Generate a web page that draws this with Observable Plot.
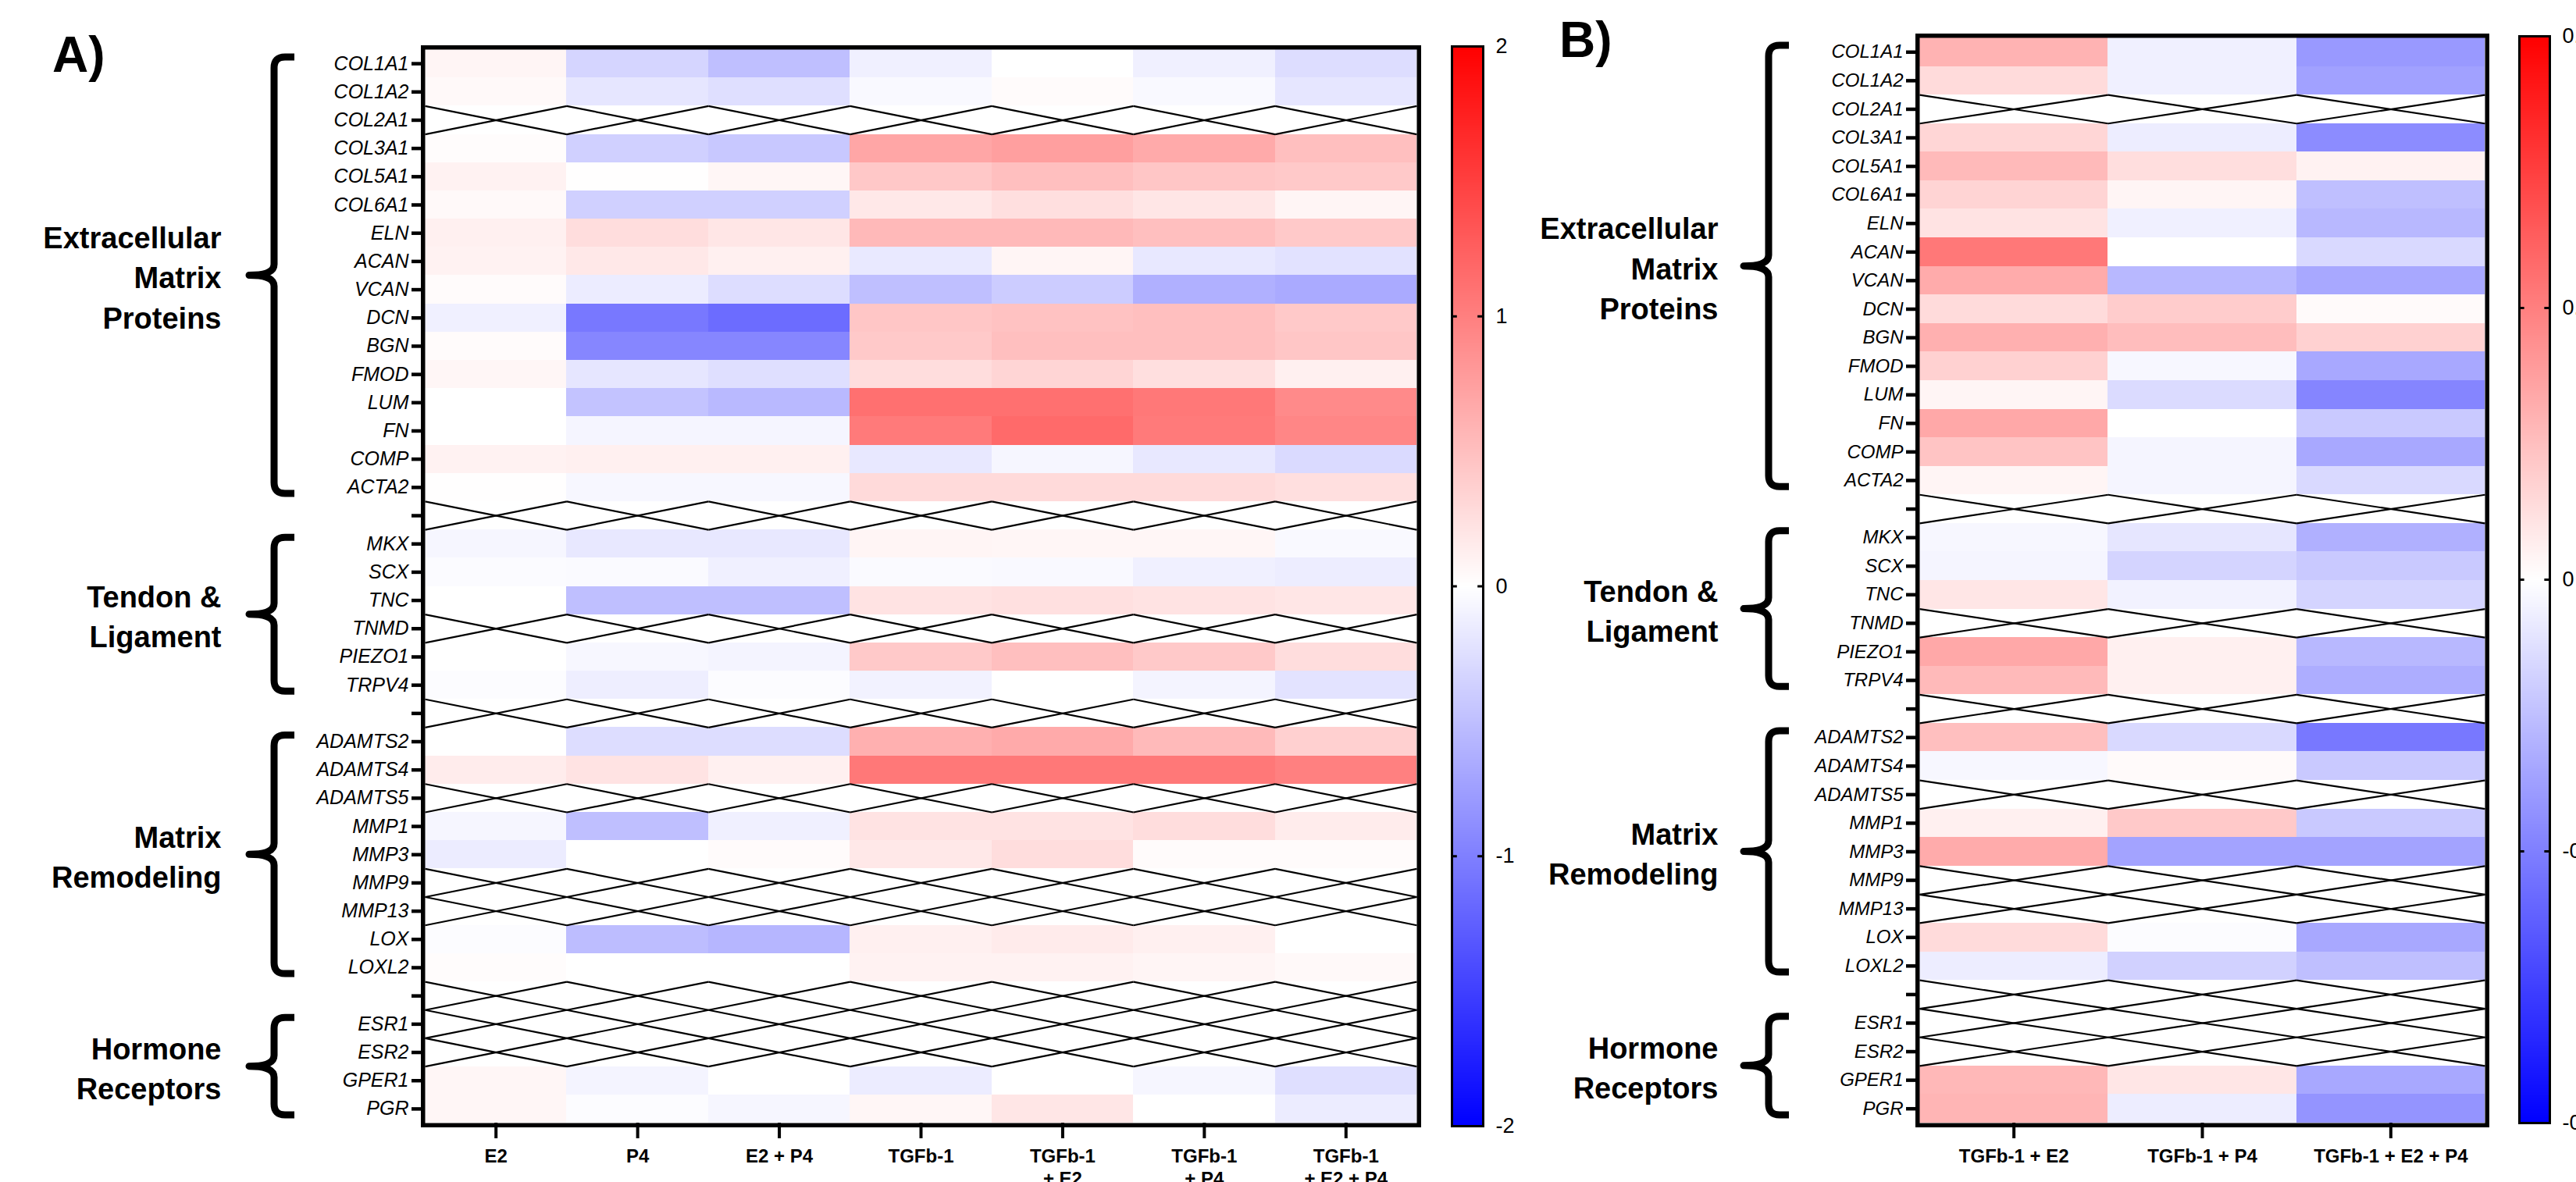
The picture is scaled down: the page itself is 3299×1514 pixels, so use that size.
<!DOCTYPE html>
<html>
<head>
<meta charset="utf-8">
<script src="https://cdn.jsdelivr.net/npm/d3@7"></script>
<script src="https://cdn.jsdelivr.net/npm/@observablehq/plot@0.6"></script>
<style>
html, body { margin: 0; padding: 0; background: #fff; }
#root { position: relative; width: 3299px; height: 1514px; overflow: hidden; background: #fff;
  font-family: "Liberation Sans", Arial, sans-serif; color: #000; }
.layer { position: absolute; top: 0; }
.tag { position: absolute; font-weight: bold; font-size: 64px; line-height: 64px; }
</style>
</head>
<body>
<div id="root">
  <div class="tag" style="left:67px; top:38px;">A)</div>
  <div class="tag" style="left:1997px; top:19px;">B)</div>
</div>
<script>
// ---------- DATA ----------
// Row labels (blank strings are empty separator rows)
const genes = ["COL1A1","COL1A2","COL2A1","COL3A1","COL5A1","COL6A1","ELN","ACAN","VCAN","DCN","BGN","FMOD","LUM","FN","COMP","ACTA2","",
  "MKX","SCX","TNC","TNMD","PIEZO1","TRPV4","",
  "ADAMTS2","ADAMTS4","ADAMTS5","MMP1","MMP3","MMP9","MMP13","LOX","LOXL2","",
  "ESR1","ESR2","GPER1","PGR"];

// Gene groups
const groupNames = ["Extracellular\nMatrix\nProteins", "Tendon &\nLigament", "Matrix\nRemodeling", "Hormone\nReceptors"];
const groupFirst = ["COL1A1", "MKX", "ADAMTS2", "ESR1"];
const groupLast  = ["ACTA2", "TRPV4", "LOXL2", "PGR"];

// Panel A conditions
const condsA = ["E2", "P4", "E2 + P4", "TGFb-1", "TGFb-1\n+ E2", "TGFb-1\n+ P4", "TGFb-1\n+ E2 + P4"];
// Panel A values (null = not measured, crossed cell)
const a_E2 = [0.08,0.05,null,0.02,0.10,0.05,0.12,0.10,0.03,-0.12,0.03,0.07,0.00,0.00,0.10,0.01,null,
  -0.07,-0.03,0.00,null,0.00,-0.02,null,
  0.00,0.15,null,-0.07,-0.15,null,null,-0.02,0.02,null,
  null,null,0.07,0.07];
const a_P4 = [-0.33,-0.20,null,-0.37,0.01,-0.37,0.27,0.18,-0.15,-1.06,-0.95,-0.20,-0.47,-0.08,0.12,-0.06,null,
  -0.18,-0.04,-0.50,null,-0.06,-0.13,null,
  -0.27,0.22,null,-0.50,0.00,null,null,-0.52,0.00,null,
  null,null,-0.09,-0.02];
const a_E2P4 = [-0.50,-0.25,null,-0.43,0.07,-0.37,0.20,0.12,-0.27,-1.15,-0.95,-0.25,-0.55,-0.08,0.12,-0.06,null,
  -0.18,-0.12,-0.50,null,-0.09,-0.02,null,
  -0.27,0.12,null,-0.12,0.03,null,null,-0.57,0.00,null,
  null,null,0.00,-0.07];
const a_T = [-0.12,-0.05,null,0.70,0.43,0.18,0.55,-0.17,-0.50,0.45,0.42,0.27,1.12,1.04,-0.18,0.29,null,
  0.08,-0.04,0.22,null,0.42,-0.10,null,
  0.62,1.06,null,0.22,0.18,null,null,0.12,0.10,null,
  null,null,-0.15,0.07];
const a_TE2 = [0.00,0.03,null,0.75,0.50,0.25,0.55,0.08,-0.40,0.48,0.50,0.33,1.12,1.17,-0.07,0.29,null,
  0.07,-0.05,0.24,null,0.50,0.00,null,
  0.67,1.06,null,0.22,0.27,null,null,0.16,0.10,null,
  null,null,0.00,0.20];
const a_TP4 = [-0.12,-0.05,null,0.67,0.45,0.20,0.50,-0.18,-0.62,0.50,0.50,0.25,1.06,1.04,-0.18,0.29,null,
  0.07,-0.12,0.22,null,0.42,-0.09,null,
  0.54,1.06,null,0.27,0.03,null,null,0.12,0.08,null,
  null,null,-0.07,0.00];
const a_TE2P4 = [-0.27,-0.20,null,0.50,0.42,0.08,0.42,-0.23,-0.67,0.42,0.45,0.12,0.92,0.95,-0.29,0.25,null,
  -0.05,-0.14,0.20,null,0.27,-0.22,null,
  0.37,1.00,null,0.15,0.03,null,null,0.00,0.05,null,
  null,null,-0.25,-0.15];

// Panel B conditions
const condsB = ["TGFb-1 + E2", "TGFb-1 + P4", "TGFb-1 + E2 + P4"];
const b_TE2 = [0.120,0.056,null,0.064,0.108,0.068,0.044,0.212,0.132,0.056,0.124,0.072,0.016,0.136,0.092,0.016,null,
  -0.012,-0.016,0.040,null,0.136,0.108,null,
  0.100,-0.012,null,0.024,0.132,null,null,0.056,-0.028,null,
  null,null,0.112,0.116];
const b_TP4 = [-0.024,-0.024,null,-0.028,0.052,0.016,-0.024,0.000,-0.112,0.080,0.104,-0.012,-0.056,0.000,-0.016,-0.016,null,
  -0.040,-0.068,-0.020,null,0.024,0.024,null,
  -0.060,0.008,null,0.084,-0.144,null,null,-0.004,-0.072,null,
  null,null,0.040,-0.028];
const b_TE2P4 = [-0.160,-0.148,null,-0.180,0.020,-0.100,-0.112,-0.060,-0.136,0.008,0.072,-0.136,-0.192,-0.084,-0.136,-0.060,null,
  -0.124,-0.084,-0.068,null,-0.112,-0.128,null,
  -0.212,-0.084,null,-0.084,-0.144,null,null,-0.136,-0.100,null,
  null,null,-0.136,-0.168];

// Colour bar ticks
const ticksA = [-2, -1, 0, 1, 2];
const tickLabelsA = ["-2", "-1", "0", "1", "2"];
const ticksB = [-0.4, -0.2, 0, 0.2, 0.4];
const tickLabelsB = ["-0.4", "-0.2", "0", "0.2", "0.4"];

// ---------- DRAWING ----------
const FONT = "'Liberation Sans', Arial, Helvetica, sans-serif";
const COLORS = ["#0000ff", "#ffffff", "#ff0000"];

function colorScale(max) {
  return {type: "linear", domain: [-max, 0, max], range: COLORS, interpolate: "rgb", clamp: true};
}

function braceMark(groups) {
  return (index, scales, values, dims) => {
    const g = d3.create("svg:g");
    const L = dims.marginLeft;
    const xv = L - 193, xr = L - 167, xt = L - 225, r = 14;
    for (const gr of groups) {
      const y0 = scales.y(gr.i0) + 10, y1 = scales.y(gr.i1) - 10, ym = scales.y((gr.i0 + gr.i1) / 2);
      const d = `M${xr},${y0} L${xv + r},${y0} Q${xv},${y0} ${xv},${y0 + r} L${xv},${ym - r} ` +
        `Q${xv},${ym} ${xt},${ym} Q${xv},${ym} ${xv},${ym + r} L${xv},${y1 - r} ` +
        `Q${xv},${y1} ${xv + r},${y1} L${xr},${y1}`;
      g.append("path").attr("d", d).attr("fill", "none").attr("stroke", "black")
        .attr("stroke-width", 9).attr("stroke-linejoin", "round");
    }
    return g.node();
  };
}

function heatPanel({conds, series, max, width, marginLeft, marginRight, marginTop, marginBottom, rowFont, groupDx}) {
  const nR = genes.length, nC = conds.length;
  const cells = [], missing = [];
  series.forEach((vals, j) => vals.forEach((v, i) => {
    if (v == null) {
      missing.push({x1: j, y1: i, x2: j + 1, y2: i + 1}, {x1: j, y1: i + 1, x2: j + 1, y2: i});
    } else {
      cells.push({x1: j, x2: j + 1, y1: i, y2: i + 1, v});
    }
  }));
  const groups = groupNames.map((name, k) => {
    const i0 = genes.indexOf(groupFirst[k]), i1 = genes.indexOf(groupLast[k]) + 1;
    return {name, i0, i1, mid: (i0 + i1) / 2};
  });
  const yTicks = genes.map((g, i) => i + 0.5);
  const xTicks = conds.map((c, j) => j + 0.5);
  return Plot.plot({
    width, height: 1514, marginLeft, marginRight, marginTop, marginBottom,
    style: {background: "transparent", color: "black", fontFamily: FONT, fontSize: "25px", overflow: "visible"},
    x: {domain: [0, nC]},
    y: {domain: [nR, 0]},
    color: colorScale(max),
    marks: [
      Plot.rect(cells, {x1: "x1", x2: "x2", y1: "y1", y2: "y2", fill: "v", shapeRendering: "crispEdges"}),
      Plot.link(missing, {x1: "x1", y1: "y1", x2: "x2", y2: "y2", stroke: "black", strokeWidth: 2.2}),
      Plot.frame({stroke: "black", strokeWidth: 5.5, inset: -2.75}),
      Plot.axisY(yTicks, {tickFormat: d => genes[Math.floor(d)], tickSize: 17, tickPadding: 4,
        strokeWidth: 4.5, fontStyle: "italic", fontSize: rowFont, label: null}),
      Plot.axisX(xTicks, {tickFormat: d => conds[Math.floor(d)], tickSize: 20, tickPadding: 10,
        strokeWidth: 4, fontWeight: "bold", fontSize: 24, lineHeight: 1.2, label: null}),
      Plot.text(groups, {y: "mid", text: "name", frameAnchor: "left", dx: groupDx, textAnchor: "end",
        fontWeight: "bold", fontSize: 38, lineHeight: 1.35}),
      braceMark(groups)
    ]
  });
}

function colorBar({max, ticks, labels, width, marginLeft, marginRight, marginTop, marginBottom}) {
  const labelOf = new Map(ticks.map((t, i) => [t, labels[i]]));
  return Plot.plot({
    width, height: 1514, marginLeft, marginRight, marginTop, marginBottom,
    style: {background: "transparent", color: "black", fontFamily: FONT, fontSize: "27px", overflow: "visible"},
    x: {domain: [0, 1], axis: null},
    y: {domain: [-max, max]},
    color: colorScale(max),
    marks: [
      Plot.raster({x1: 0, x2: 1, y1: -max, y2: max, width: 1, height: 1000, fill: (x, y) => y}),
      Plot.ruleY(ticks, {x1: 0, x2: 0.17, stroke: "black", strokeWidth: 3}),
      Plot.ruleY(ticks, {x1: 0.83, x2: 1, stroke: "black", strokeWidth: 3}),
      Plot.frame({stroke: "black", strokeWidth: 3}),
      Plot.axisY(ticks, {anchor: "right", tickSize: 0, tickPadding: 16, fontSize: 27,
        tickFormat: d => labelOf.get(d), label: null})
    ]
  });
}

function place(node, left) {
  const wrap = document.createElement("div");
  wrap.className = "layer";
  wrap.style.left = left + "px";
  wrap.appendChild(node);
  document.getElementById("root").appendChild(wrap);
}

place(heatPanel({conds: condsA, series: [a_E2, a_P4, a_E2P4, a_T, a_TE2, a_TP4, a_TE2P4], max: 2,
  width: 1830, marginLeft: 544, marginRight: 16, marginTop: 63, marginBottom: 76, rowFont: 25, groupDx: -261}), 0);

place(colorBar({max: 2, ticks: ticksA, labels: tickLabelsA,
  width: 130, marginLeft: 29, marginRight: 61, marginTop: 59, marginBottom: 72}), 1830);

place(heatPanel({conds: condsB, series: [b_TE2, b_TP4, b_TE2P4], max: 0.4,
  width: 1240, marginLeft: 508, marginRight: 8, marginTop: 48, marginBottom: 76, rowFont: 24, groupDx: -258}), 1950);

place(colorBar({max: 0.4, ticks: ticksB, labels: tickLabelsB,
  width: 104, marginLeft: 31, marginRight: 34, marginTop: 46, marginBottom: 76}), 3195);
</script>
</body>
</html>
